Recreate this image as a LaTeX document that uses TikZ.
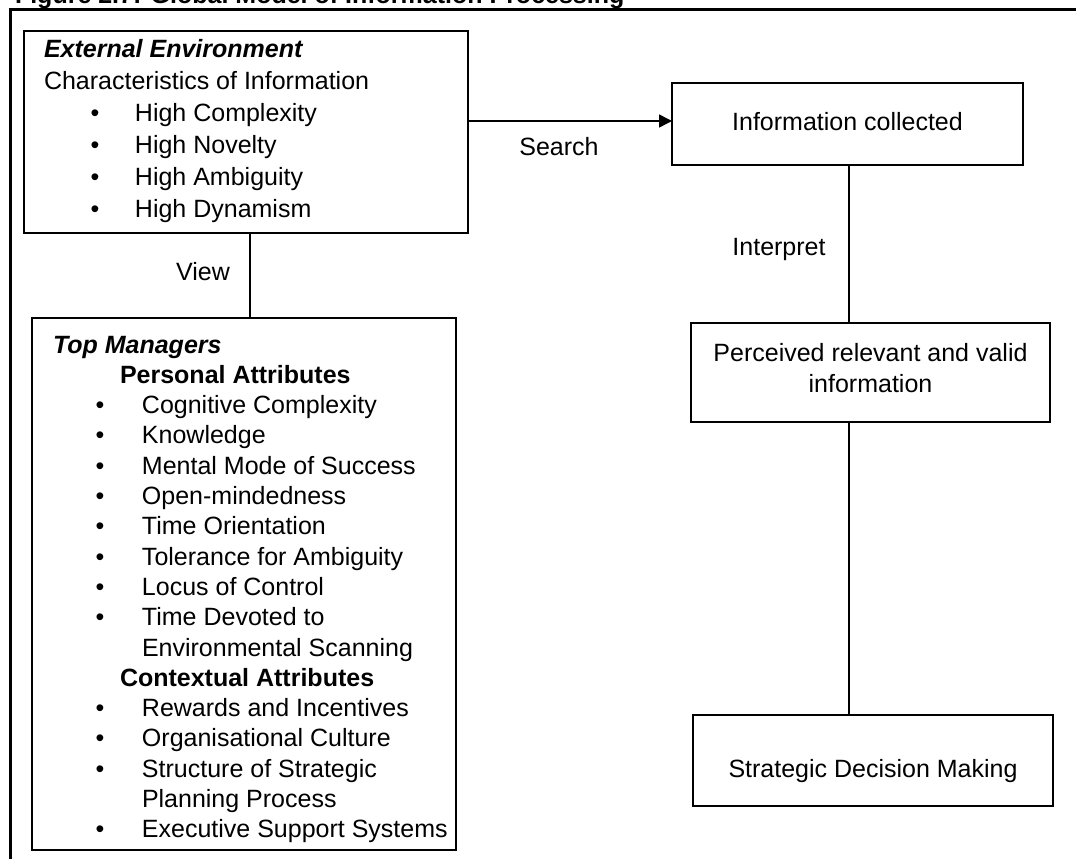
\documentclass[tikz,border=0pt]{standalone}
\usepackage{fontspec}
\setmainfont{Liberation Sans}
\usetikzlibrary{arrows.meta}
% bullet rows: bullet centred at the first offset, text at the second
\newcommand\extbul{\hspace*{51pt}\makebox[0pt]{\textbullet}\hspace*{40pt}}
\newcommand\tmbul{\hspace*{47pt}\makebox[0pt]{\textbullet}\hspace*{42pt}}
\begin{document}
\begin{tikzpicture}[x=1pt,y=-1pt,
  box/.style={draw, line width=1.6pt, inner sep=0pt, outer sep=0pt},
  link/.style={line width=1.5pt},
  arr/.style={link, -{Triangle[length=13pt,width=13pt]}},
  txt/.style={inner sep=0pt, outer sep=0pt, font=\fontsize{25}{31}\selectfont}]
\useasboundingbox (0,0) rectangle (1076,859);

% outer frame and heading
\draw[line width=3pt] (1090,10) -- (10.5,10) -- (10.5,875);
\node[txt, anchor=base west, font=\fontsize{25}{31}\selectfont\bfseries] (title) at (15,4)
  {Figure 2.7: Global Model of Information Processing};

% boxes
\node[box, minimum width=444pt, minimum height=202pt] (ext)  at (246,132) {};
\node[box, minimum width=424pt, minimum height=532pt] (tm)   at (244,584) {};
\node[box, minimum width=351pt, minimum height=82pt]  (info) at (847.5,124) {};
\node[box, minimum width=359pt, minimum height=99pt]  (perc) at (870.5,372.5) {};
\node[box, minimum width=360pt, minimum height=91pt]  (sdm)  at (873,760.5) {};

% box texts
\node[txt, anchor=base west, font=\fontsize{25}{32}\selectfont] (exttext) at (44,58)
 {\begin{tabular}[t]{@{}l@{}}
  \textbf{\textit{External Environment}}\\
  Characteristics of Information\\
  \extbul High Complexity\\
  \extbul High Novelty\\
  \extbul High Ambiguity\\
  \extbul High Dynamism
  \end{tabular}};

\node[txt, anchor=base west, font=\fontsize{25}{30.3}\selectfont] (tmtext) at (53,353)
 {\begin{tabular}[t]{@{}l@{}}
  \textbf{\textit{Top Managers}}\\
  \hspace*{67pt}\textbf{Personal Attributes}\\
  \tmbul Cognitive Complexity\\
  \tmbul Knowledge\\
  \tmbul Mental Mode of Success\\
  \tmbul Open-mindedness\\
  \tmbul Time Orientation\\
  \tmbul Tolerance for Ambiguity\\
  \tmbul Locus of Control\\
  \tmbul Time Devoted to\\
  \hspace*{89pt}Environmental Scanning\\
  \hspace*{67pt}\textbf{Contextual Attributes}\\
  \tmbul Rewards and Incentives\\
  \tmbul Organisational Culture\\
  \tmbul Structure of Strategic\\
  \hspace*{89pt}Planning Process\\
  \tmbul Executive Support Systems
  \end{tabular}};

\node[txt, anchor=base] (infotext) at (847.5,130) {Information collected};
\node[txt, anchor=base] (perctext) at (870.5,361)
 {\begin{tabular}[t]{@{}c@{}}Perceived relevant and valid\\information\end{tabular}};
\node[txt, anchor=base] (sdmtext) at (873,777) {Strategic Decision Making};

% connectors
\coordinate (s0) at ([yshift=11pt]ext.east);
\draw[arr] (s0) -- (s0 -| info.west);
\node[txt, anchor=base] (search) at (559,155) {Search};

\coordinate (vx) at (250,0);
\draw[link] (ext.south -| vx) -- (tm.north -| vx);
\node[txt, anchor=base] (view) at (203,280) {View};

\coordinate (ix) at (849,0);
\draw[link] (info.south -| ix) -- (perc.north -| ix);
\node[txt, anchor=base] (interp) at (779,255) {Interpret};
\draw[link] (perc.south -| ix) -- (sdm.north -| ix);
\end{tikzpicture}
\end{document}
